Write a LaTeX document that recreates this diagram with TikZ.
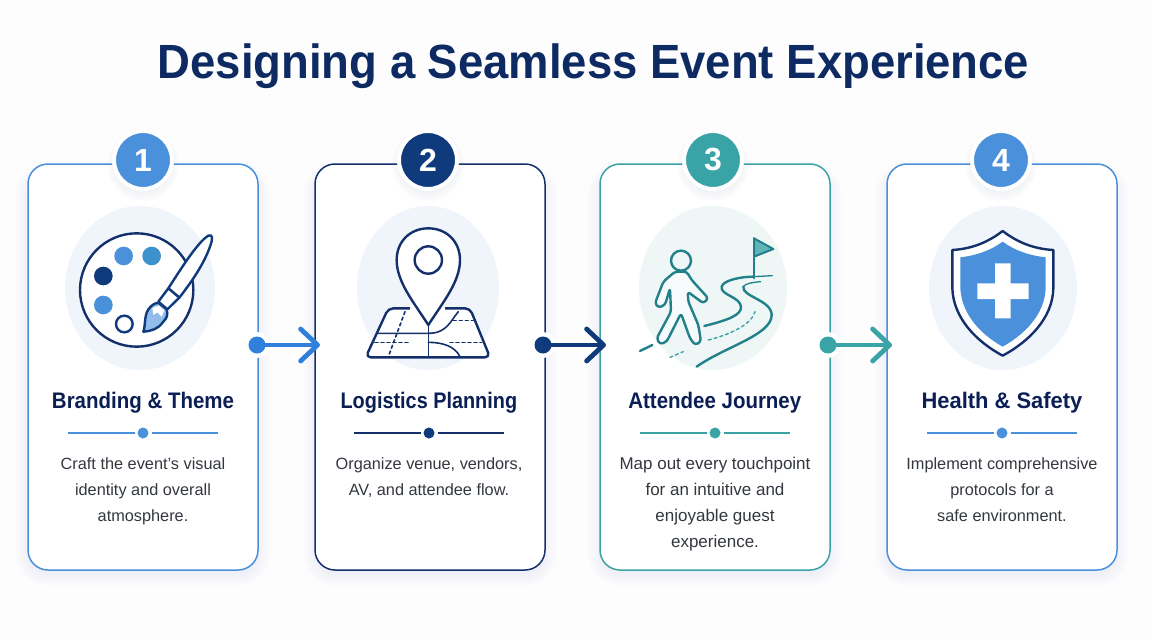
\documentclass[tikz,border=0pt]{standalone}
\usepackage{fontspec}
\setmainfont{Liberation Sans}
\usetikzlibrary{arrows.meta,positioning}

\definecolor{skyblue}{HTML}{4A90DB}
\definecolor{navyblue}{HTML}{0F3B7D}
\definecolor{linenavy}{HTML}{14306B}
\definecolor{tealgreen}{HTML}{3AA3A6}
\definecolor{tealline}{HTML}{22808A}
\definecolor{paleblue}{HTML}{F0F5FC}
\definecolor{paleteal}{HTML}{EEF6F6}
\definecolor{titleblue}{HTML}{0D2A63}
\definecolor{headblue}{HTML}{0B1F55}
\definecolor{bodygrey}{HTML}{33373F}
\definecolor{flowblue}{HTML}{2F80DD}
\definecolor{pagetint}{HTML}{FDFDFE}
\definecolor{shadowblue}{HTML}{7A93B8}

\newcommand{\softshadow}[4]{%
	\foreach \g in {0,2,...,12}
		\fill[shadowblue,opacity=.012,rounded corners=20pt+\g pt] (#1-\g,#2+10-\g) rectangle (#3+\g,#4+4+\g);
}
\newcommand{\badgeshadow}[2]{%
	\foreach \g in {26,28,...,36}
		\fill[shadowblue,opacity=.02] (#1,#2+5) circle[radius=\g];
}

\tikzset{
	card/.style={draw=#1,fill=white,line width=1.5pt,rounded corners=20pt,minimum width=230pt,minimum height=406pt,inner sep=0pt,outer sep=0pt},
	badge/.style={circle,fill=#1,draw=white,line width=4pt,minimum size=58pt,inner sep=0pt,text=white,font=\fontsize{32}{32}\selectfont\bfseries},
	heading/.style={text=headblue,inner sep=0pt,xscale=.91,font=\fontsize{22.5}{26}\selectfont\bfseries},
	bodytext/.style={text=bodygrey,align=center,inner sep=0pt,font=\fontsize{16.3}{26}\selectfont},
	ruledot/.style={circle,fill=#1,minimum size=11pt,inner sep=0pt,outer sep=3pt},
	ruleline/.style={draw=#1,line width=1.2pt},
	flowring/.style={circle,fill=white,minimum size=26pt,inner sep=0pt,outer sep=0pt},
	flowdot/.style={circle,fill=#1,minimum size=17pt,inner sep=0pt,outer sep=0pt},
	flowline/.style={line width=4.8pt,draw=#1,-{Straight Barb[length=17pt,width=32pt,round]}},
	flowhalo/.style={line width=12pt,draw=white,-{Straight Barb[length=17pt,width=32pt]}},
	icon/.style={draw=#1,line width=2.4pt,line join=round,line cap=round},
	zoomgrid/.style={x=.33333pt,y=-.33333pt},
}

\begin{document}
\begin{tikzpicture}[x=1pt,y=-1pt,on grid]
	\useasboundingbox[fill=pagetint] (0,0) rectangle (1152,640);
	
	\node[text=titleblue,inner sep=0pt,xscale=.947,font=\fontsize{48}{50}\selectfont\bfseries] (title) at (593.5,66) {Designing a Seamless Event Experience};
	
	\softshadow{28}{164}{258}{570}
	\softshadow{315}{164}{545}{570}
	\softshadow{600}{164}{830}{570}
	\softshadow{887}{164}{1117}{570}
	
	\node[card=skyblue] (card1) at (143,367) {};
	\node[card=linenavy, right = 287pt of card1] (card2) {};
	\node[card=tealgreen, right = 285pt of card2] (card3) {};
	\node[card=skyblue, right = 287pt of card3] (card4) {};
	
	\fill[paleblue] (140,288) ellipse[x radius=75,y radius=82];
	\fill[paleblue] (428,288) ellipse[x radius=71,y radius=82];
	\fill[paleteal] (713,288) ellipse[x radius=74,y radius=82];
	\fill[paleblue] (1003,288) ellipse[x radius=74,y radius=82];
	
	% palette
	\begin{scope}[shift={(20,125)},zoomgrid]
		\draw[icon=linenavy,fill=white] (350,495) circle[radius=170];
		\fill[skyblue] (311,393) circle[radius=28];
		\fill[flowblue!35!skyblue!70!tealgreen] (395,393) circle[radius=28];
		\fill[navyblue] (250,453) circle[radius=28];
		\fill[skyblue] (250,540) circle[radius=28];
		\draw[icon=navyblue] (313,597) circle[radius=25];
		\draw[icon=navyblue,fill=white] (445,490) .. controls (490,420) and (535,350) .. (565,332) .. controls (580,325) and (578,345) .. (570,365) .. controls (550,420) and (515,470) .. (478,518) -- cycle;
		\draw[icon=navyblue,fill=white] (445,490) -- (478,518) -- (442,553) -- (415,530) -- cycle;
		\draw[icon=navyblue,fill=skyblue!60] (370,620) .. controls (378,600) and (370,565) .. (392,545) .. controls (402,535) and (412,532) .. (418,535) -- (440,553) .. controls (445,570) and (440,580) .. (430,590) .. controls (415,612) and (395,618) .. (370,620) -- cycle;
		\fill[white] (397,549) -- (416,542) -- (433,556) -- (425,575) -- (412,562) -- (400,570) -- cycle;
	\end{scope}
	
	% map and pin
	\begin{scope}[shift={(310,125)},zoomgrid]
		\draw[icon=linenavy,fill=white,rounded corners=5pt] (235,550) -- (480,550) -- (540,697) -- (167,697) -- cycle;
		\draw[icon=linenavy,line width=1.6pt] (205,625) -- (355,625) .. controls (410,625) and (420,590) .. (445,560);
		\draw[icon=linenavy,line width=1.6pt] (355,652) .. controls (400,652) and (435,665) .. (450,695);
		\draw[icon=linenavy,line width=1.6pt] (355,600) -- (355,695);
		\draw[icon=linenavy,line width=1.6pt,dashed] (195,653) -- (300,653);
		\draw[icon=linenavy,line width=1.6pt,dashed] (285,560) -- (235,695);
		\draw[icon=linenavy,line width=1.6pt,dashed] (430,587) -- (490,587);
		\draw[icon=linenavy,line width=1.6pt,dashed] (420,653) -- (515,653);
		\draw[draw=white,line width=7pt] (300,550) -- (320,550) (390,550) -- (405,550);
		\draw[icon=linenavy,fill=white] (355,600) .. controls (310,530) and (260,470) .. (260,405) .. controls (260,350) and (300,310) .. (355,310) .. controls (410,310) and (450,350) .. (450,405) .. controls (450,470) and (400,530) .. (355,600) -- cycle;
		\draw[icon=linenavy] (355,405) circle[radius=41];
	\end{scope}
	
	% walker on the road
	\begin{scope}[shift={(595,125)},zoomgrid]
		\draw[icon=tealline] (258,407) circle[radius=30];
		\draw[icon=tealline,fill=paleteal!40,rounded corners=3pt] (240,440) -- (205,470) -- (180,535) -- (190,548) -- (210,540) -- (225,490) -- (228,560) -- (185,640) -- (195,658) -- (215,650) -- (258,565) -- (285,640) -- (300,660) -- (318,650) -- (310,600) -- (280,530) -- (278,500) -- (325,535) -- (340,520) -- (290,465) -- (275,440) -- cycle;
		\draw[icon=tealline] (135,678) -- (172,660);
		\draw[icon=tealgreen,line width=1.4pt,dashed] (225,697) -- (265,680);
		\draw[icon=tealgreen,line width=1.4pt,dashed] (340,645) .. controls (400,630) and (470,600) .. (480,560);
		\draw[icon=tealline] (328,603) .. controls (400,585) and (440,570) .. (438,545) .. controls (435,515) and (375,510) .. (380,485) .. controls (385,465) and (440,455) .. (475,455);
		\draw[icon=tealline,line width=1.3pt] (475,455) -- (532,452);
		\draw[icon=tealline] (305,725) .. controls (390,665) and (530,630) .. (530,570) .. controls (530,525) and (440,515) .. (445,485);
		\draw[icon=tealline,line width=1.3pt] (445,485) .. controls (450,475) and (475,472) .. (497,470);
		\draw[icon=tealline,line width=2pt] (477,340) -- (477,460);
		\draw[icon=tealline,line width=2pt,fill=tealgreen!80] (477,340) -- (535,372) -- (477,395) -- cycle;
	\end{scope}
	
	% shield
	\begin{scope}[shift={(880,125)},zoomgrid]
		\draw[icon=linenavy,fill=white] (368,318) .. controls (320,355) and (270,372) .. (217,375) -- (217,490) .. controls (220,580) and (290,650) .. (368,692) .. controls (446,650) and (518,580) .. (520,490) -- (520,375) .. controls (466,372) and (416,355) .. (368,318) -- cycle;
		\fill[skyblue] (368,350) .. controls (330,378) and (285,392) .. (241,397) -- (241,490) .. controls (245,570) and (305,630) .. (368,665) .. controls (431,630) and (494,570) .. (497,490) -- (497,397) .. controls (451,392) and (406,378) .. (368,350) -- cycle;
		\fill[white] (345,415) -- (392,415) -- (392,475) -- (446,475) -- (446,522) -- (392,522) -- (392,580) -- (345,580) -- (345,522) -- (292,522) -- (292,475) -- (345,475) -- cycle;
	\end{scope}
	
	\badgeshadow{143}{160}
	\badgeshadow{428}{160}
	\badgeshadow{713}{160}
	\badgeshadow{1001}{160}
	
	\node[badge=skyblue, above = 207pt of card1] (badge1) {1};
	\node[badge=navyblue, above = 207pt of card2, xshift=-2pt] (badge2) {2};
	\node[badge=tealgreen, above = 207pt of card3, xshift=-2pt] (badge3) {3};
	\node[badge=skyblue, above = 207pt of card4, xshift=-1pt] (badge4) {4};
	
	\node[heading, below = 243pt of badge1] (head1) {Branding \& Theme};
	\node[heading, xscale=.97, below = 243pt of badge2, xshift=1pt] (head2) {Logistics Planning};
	\node[heading, below = 243pt of badge3, xshift=2pt] (head3) {Attendee Journey};
	\node[heading, xscale=1.07, below = 243pt of badge4, xshift=1pt] (head4) {Health \& Safety};
	
	\node[ruledot=skyblue, below = 273pt of badge1] (dot1) {};
	\node[ruledot=navyblue, below = 273pt of badge2, xshift=1pt] (dot2) {};
	\node[ruledot=tealgreen, below = 273pt of badge3, xshift=2pt] (dot3) {};
	\node[ruledot=skyblue, below = 273pt of badge4, xshift=1pt] (dot4) {};
	
	\coordinate[left = 75pt of dot1] (rule1l);
	\coordinate[right = 75pt of dot1] (rule1r);
	\coordinate[left = 75pt of dot2] (rule2l);
	\coordinate[right = 75pt of dot2] (rule2r);
	\coordinate[left = 75pt of dot3] (rule3l);
	\coordinate[right = 75pt of dot3] (rule3r);
	\coordinate[left = 75pt of dot4] (rule4l);
	\coordinate[right = 75pt of dot4] (rule4r);
	
	\path[ruleline=skyblue] (rule1l) -- (dot1) (dot1) -- (rule1r);
	\path[ruleline=linenavy] (rule2l) -- (dot2) (dot2) -- (rule2r);
	\path[ruleline=tealgreen] (rule3l) -- (dot3) (dot3) -- (rule3r);
	\path[ruleline=skyblue] (rule4l) -- (dot4) (dot4) -- (rule4r);
	
	\node[bodytext, below = 24pt of dot1, anchor=north] (text1) {Craft the event's visual\\identity and overall\\atmosphere.};
	\node[bodytext, below = 24pt of dot2, anchor=north] (text2) {Organize venue, vendors,\\AV, and attendee flow.};
	\node[bodytext, font=\fontsize{17}{26}\selectfont, below = 24pt of dot3, anchor=north] (text3) {Map out every touchpoint\\for an intuitive and\\enjoyable guest\\experience.};
	\node[bodytext, below = 24pt of dot4, anchor=north] (text4) {Implement comprehensive\\protocols for a\\safe environment.};
	
	\node[flowring] (ring1) at (257,345) {};
	\node[flowring] (ring2) at (543,345) {};
	\node[flowring] (ring3) at (828,345) {};
	\coordinate[right = 63pt of ring1] (tip1);
	\coordinate[right = 63pt of ring2] (tip2);
	\coordinate[right = 64pt of ring3] (tip3);
	
	\draw[flowhalo] (ring1) -- (tip1);
	\draw[flowhalo] (ring2) -- (tip2);
	\draw[flowhalo] (ring3) -- (tip3);
	\draw[flowline=flowblue] (ring1.center) -- (tip1);
	\draw[flowline=navyblue] (ring2.center) -- (tip2);
	\draw[flowline=tealgreen] (ring3.center) -- (tip3);
	\node[flowdot=flowblue] (flow1) at (ring1) {};
	\node[flowdot=navyblue] (flow2) at (ring2) {};
	\node[flowdot=tealgreen] (flow3) at (ring3) {};
\end{tikzpicture}
\end{document}
